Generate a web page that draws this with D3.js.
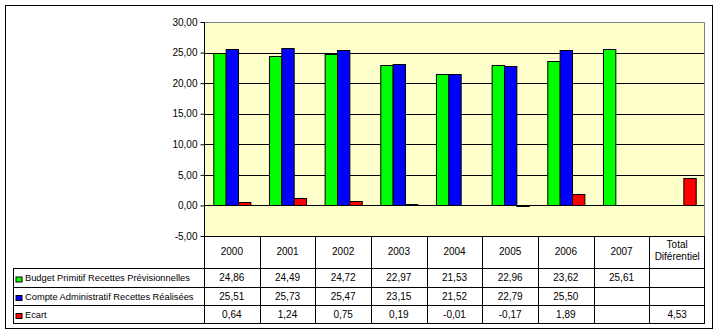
<!DOCTYPE html>
<html><head><meta charset="utf-8">
<script src="https://cdn.jsdelivr.net/npm/d3@7/dist/d3.min.js"></script>
<style>body{margin:0;background:#fff}svg{display:block}text{font-family:"Liberation Sans",Arial,sans-serif;font-size:10px;fill:#000}</style>
</head><body><svg id="c" width="718" height="336"></svg>
<script>
const categories = ["2000","2001","2002","2003","2004","2005","2006","2007","Total Diférentiel"];
const seriesNames = ["Budget Primitif Recettes Prévisionnelles","Compte Administratif Recettes Réalisées","Ecart"];
const budget = [24.86,24.49,24.72,22.97,21.53,22.96,23.62,25.61,null];
const compte = [25.51,25.73,25.47,23.15,21.52,22.79,25.50,null,null];
const ecart  = [0.64,1.24,0.75,0.19,-0.01,-0.17,1.89,null,4.53];
const yTicks = [-5,0,5,10,15,20,25,30];
const colors = ["#00FF00","#0000FF","#FF0000"];
const series = [budget, compte, ecart];

const svg = d3.select("#c");
const L=204, R=705, T=22, B=236;
const fmt = v => v==null ? "" : v.toFixed(2).replace(".",",");

// outer border
svg.append("rect").attr("x",5.5).attr("y",5.5).attr("width",707).attr("height",323).attr("fill","#fff").attr("stroke","#000");

const x = d3.scaleBand().domain(categories).range([L,R]).padding(0);
const y = d3.scaleLinear().domain([-5,30]).range([B,T]);
const bw = x.bandwidth()*0.222;

// plot area
svg.append("rect").attr("x",L).attr("y",T).attr("width",R-L).attr("height",B-T).attr("fill","#FFFFCC");
// gridlines
svg.append("g").selectAll("line").data(yTicks.filter(t=>t>-5&&t<30)).join("line")
  .attr("x1",L).attr("x2",R).attr("y1",d=>Math.round(y(d))+0.5).attr("y2",d=>Math.round(y(d))+0.5).attr("stroke","#000");
// plot border top/right gray
svg.append("path").attr("d",`M${L},${T+0.5}H${R-0.5}V${B}`).attr("fill","none").attr("stroke","#808080");

// bars
series.forEach((s,si)=>{
  svg.append("g").selectAll("rect").data(s.map((v,i)=>({v,c:categories[i]})).filter(d=>d.v!=null)).join("rect")
    .attr("x",d=>x(d.c)+x.bandwidth()/2-1.5*bw+si*bw+0.5)
    .attr("y",d=>Math.round(y(Math.max(0,d.v)))+0.5)
    .attr("width",bw)
    .attr("height",d=>Math.max(0,Math.abs(Math.round(y(d.v))-Math.round(y(0)))))
    .attr("fill",colors[si]).attr("stroke","#000").attr("stroke-width",1);
});

// axis
const ax = svg.append("g").attr("transform",`translate(${L+0.5},0)`).call(d3.axisLeft(y).tickValues(yTicks).tickSize(4).tickFormat(fmt).tickPadding(3));
ax.select(".domain").attr("stroke","#000").attr("d",`M0,${T}V${B}`);
ax.selectAll(".tick line").attr("stroke","#000");
ax.selectAll("text").style("font-family","'Liberation Sans',Arial,sans-serif").style("font-size","10px").attr("fill","#000");
svg.append("line").attr("x1",L).attr("x2",R).attr("y1",B+0.5).attr("y2",B+0.5).attr("stroke","#000");

// table
const rowY=[268,287,305,323];
const TL=13;
const tg = svg.append("g");
rowY.forEach(ry=>tg.append("line").attr("x1",TL).attr("x2",R).attr("y1",ry+0.5).attr("y2",ry+0.5).attr("stroke","#000"));
categories.forEach(c=>tg.append("line").attr("x1",Math.round(x(c))+0.5).attr("x2",Math.round(x(c))+0.5).attr("y1",B).attr("y2",rowY[3]).attr("stroke","#000"));
tg.append("line").attr("x1",R-0.5).attr("x2",R-0.5).attr("y1",B).attr("y2",rowY[3]).attr("stroke","#000");
tg.append("line").attr("x1",TL+0.5).attr("x2",TL+0.5).attr("y1",rowY[0]).attr("y2",rowY[3]).attr("stroke","#000");
// header
categories.forEach(c=>{
  const cx = x(c)+x.bandwidth()/2;
  const parts = c.startsWith("Total") ? ["Total","Diférentiel"] : [c];
  parts.forEach((p,pi)=>tg.append("text").attr("x",cx).attr("y", parts.length>1 ? 245+pi*12 : 252).attr("text-anchor","middle").attr("dominant-baseline","middle").text(p));
});
// rows
series.forEach((s,si)=>{
  const cy=(rowY[si]+rowY[si+1])/2+1;
  tg.append("rect").attr("x",16).attr("y",cy-1.5).attr("width",6).attr("height",5).attr("fill",colors[si]).attr("stroke","#000");
  tg.append("text").attr("x",25).attr("y",cy+0.5).attr("dominant-baseline","middle").style("font-size","9.3px").text(seriesNames[si]);
  s.forEach((v,i)=>tg.append("text").attr("x",x(categories[i])+x.bandwidth()/2).attr("y",cy).attr("text-anchor","middle").attr("dominant-baseline","middle").text(fmt(v)));
});
</script></body></html>
